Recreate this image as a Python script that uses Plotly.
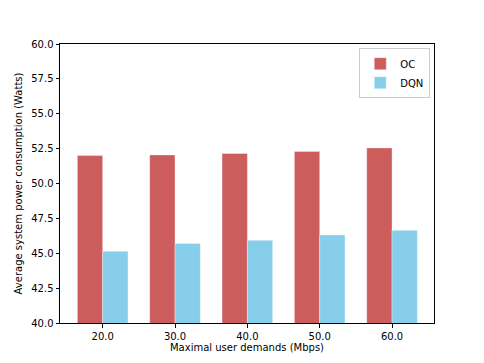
import plotly.graph_objects as go

demands = ["20.0", "30.0", "40.0", "50.0", "60.0"]
oc = [52.0, 52.05, 52.15, 52.3, 52.55]
dqn = [45.14, 45.7, 45.93, 46.31, 46.64]

font = "DejaVu Sans, Arial, sans-serif"

fig = go.Figure()
fig.add_trace(go.Bar(x=demands, y=oc, name="OC",
                     marker=dict(color="#CD5C5C", line=dict(color="rgba(255,255,255,0.6)", width=0.6))))
fig.add_trace(go.Bar(x=demands, y=dqn, name="DQN",
                     marker=dict(color="#87CEEB", line=dict(color="rgba(255,255,255,0.6)", width=0.6))))

# page body adds an 8px offset, margins compensate for it
fig.update_layout(
    width=484, height=363,
    margin=dict(l=52, r=58, t=36, b=48),
    paper_bgcolor="white", plot_bgcolor="white",
    barmode="group", bargap=0.3, bargroupgap=0,
    font=dict(family=font, size=10, color="black"),
    legend=dict(x=0.99, y=0.985, xanchor="right", yanchor="top",
                bordercolor="#cccccc", borderwidth=1, bgcolor="rgba(255,255,255,0.8)",
                font=dict(size=10), itemwidth=30, tracegroupgap=0),
    showlegend=True,
)
fig.update_xaxes(
    type="category", range=[-0.59, 4.58], automargin=False,
    title=dict(text="Maximal user demands (Mbps)", standoff=2, font=dict(size=10)),
    showline=True, linecolor="black", linewidth=1, mirror=True,
    ticks="outside", ticklen=3.5, tickcolor="black", showgrid=False,
)
fig.update_yaxes(
    range=[40, 60], tickvals=[40, 42.5, 45, 47.5, 50, 52.5, 55, 57.5, 60], automargin=False,
    ticktext=["40.0", "42.5", "45.0", "47.5", "50.0", "52.5", "55.0", "57.5", "60.0"],
    title=dict(text="Average system power consumption (Watts)", standoff=6, font=dict(size=10)),
    showline=True, linecolor="black", linewidth=1, mirror=True,
    ticks="outside", ticklen=3.5, tickcolor="black", showgrid=False, zeroline=False,
)

fig.write_html("out.html")
